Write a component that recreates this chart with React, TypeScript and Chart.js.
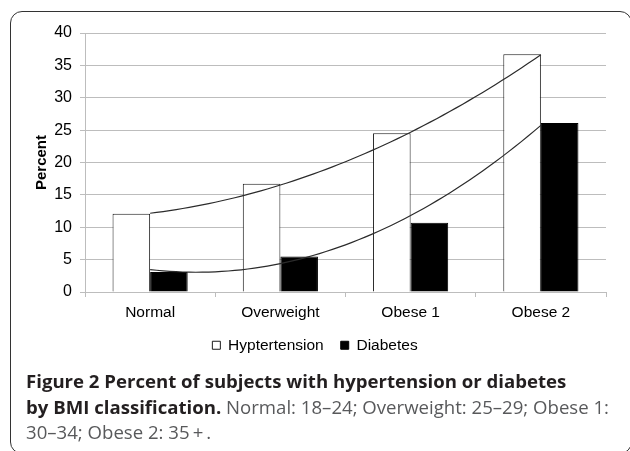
import React, { useEffect, useRef } from "react";
import { Chart, registerables } from "chart.js";

Chart.register(...registerables);

const categories = ["Normal", "Overweight", "Obese 1", "Obese 2"];
const hypertension = [12.1, 16.7, 24.5, 36.7];
const diabetes = [3.1, 5.5, 10.7, 26.1];
const seriesNames = ["Hyptertension", "Diabetes"];
const yAxisTitle = "Percent";
const yMin = 0;
const yMax = 40;
const yStep = 5;

const captionBold1 = "Figure 2 Percent of subjects with hypertension or diabetes";
const captionBold2 = "by BMI classification.";
const captionRest2 = " Normal: 18\u201324; Overweight: 25\u201329; Obese 1:";
const captionRest3 = "30\u201334; Obese 2: 35\u2009+\u2009.";

// Least-squares 2nd-order polynomial trendline (as a spreadsheet would add)
function quadraticFit(values: number[]) {
  const s = [0, 0, 0, 0, 0];
  const t = [0, 0, 0];
  values.forEach((y, x) => {
    for (let k = 0; k <= 4; k++) s[k] += Math.pow(x, k);
    for (let k = 0; k <= 2; k++) t[k] += y * Math.pow(x, k);
  });
  const m = [
    [s[0], s[1], s[2]],
    [s[1], s[2], s[3]],
    [s[2], s[3], s[4]],
  ];
  const det = (a: number[][]) =>
    a[0][0] * (a[1][1] * a[2][2] - a[1][2] * a[2][1]) -
    a[0][1] * (a[1][0] * a[2][2] - a[1][2] * a[2][0]) +
    a[0][2] * (a[1][0] * a[2][1] - a[1][1] * a[2][0]);
  const D = det(m);
  const coef = [0, 1, 2].map((c) => {
    const mc = m.map((row, r) => row.map((v, j) => (j === c ? t[r] : v)));
    return det(mc) / D;
  });
  return (x: number) => coef[0] + coef[1] * x + coef[2] * x * x;
}

// Points of the fitted curve, in category-index units (0 = first category)
function trendPoints(values: number[]) {
  const f = quadraticFit(values);
  const pts: { x: number; y: number }[] = [];
  const steps = 60;
  for (let i = 0; i <= steps; i++) {
    const x = ((values.length - 1) * i) / steps;
    pts.push({ x, y: f(x) });
  }
  return pts;
}

const FONT = "'Liberation Sans', Arial, Helvetica, sans-serif";
const GRID = "#bdbdbd";

export default function App() {
  const ref = useRef<HTMLCanvasElement | null>(null);

  useEffect(() => {
    if (!ref.current) return;
    const chart = new Chart(ref.current, {
      type: "bar",
      data: {
        labels: categories,
        datasets: [
          {
            type: "bar",
            label: seriesNames[0],
            data: hypertension,
            backgroundColor: "#ffffff",
            borderColor: "#1a1a1a",
            borderWidth: 1,
            categoryPercentage: 0.577,
            barPercentage: 1,
            order: 2,
          },
          {
            type: "bar",
            label: seriesNames[1],
            data: diabetes,
            backgroundColor: "#000000",
            borderColor: "#000000",
            borderWidth: 1,
            categoryPercentage: 0.577,
            barPercentage: 1,
            order: 2,
          },
          {
            type: "line",
            label: "trend-h",
            data: trendPoints(hypertension),
            parsing: false,
            borderColor: "#2b2b2b",
            borderWidth: 1.2,
            pointRadius: 0,
            fill: false,
            tension: 0,
            order: 0,
          },
          {
            type: "line",
            label: "trend-d",
            data: trendPoints(diabetes),
            parsing: false,
            borderColor: "#2b2b2b",
            borderWidth: 1.2,
            pointRadius: 0,
            fill: false,
            tension: 0,
            order: 0,
          },
        ] as any,
      },
      options: {
        responsive: false,
        animation: false,
        devicePixelRatio: 1,
        layout: { padding: { top: 33, right: 0, left: 0, bottom: 7 } },
        plugins: {
          legend: {
            position: "bottom",
            labels: {
              filter: (item: any) => item.datasetIndex < 2,
              boxWidth: 8,
              boxHeight: 8,
              padding: 17,
              color: "#000",
              font: { family: FONT, size: 15.5 },
            },
          },
          tooltip: { enabled: false },
        },
        scales: {
          x: {
            type: "category",
            offset: true,
            grid: {
              offset: true,
              drawOnChartArea: false,
              drawTicks: true,
              tickLength: 5,
              color: GRID,
            },
            border: { color: GRID },
            ticks: {
              color: "#000",
              font: { family: FONT, size: 15.5 },
              padding: 6,
              maxRotation: 0,
            },
            afterFit: (s: any) => {
              s.height = 28.5;
            },
          },
          y: {
            min: yMin,
            max: yMax,
            ticks: {
              stepSize: yStep,
              padding: 8,
              color: "#000",
              font: { family: FONT, size: 16 },
            },
            grid: { color: GRID, tickLength: 5 },
            border: { color: GRID },
            title: {
              display: true,
              text: yAxisTitle,
              color: "#000",
              font: { family: FONT, size: 15, weight: "bold" },
              padding: { top: 32.5, bottom: 0 },
            },
            afterFit: (s: any) => {
              s.width = 85;
            },
          },
          yr: {
            position: "right",
            display: true,
            grid: { display: false, drawTicks: false },
            border: { display: false },
            ticks: { display: false },
            afterFit: (s: any) => {
              s.width = 24;
            },
          },
        },
      } as any,
    });
    return () => chart.destroy();
  }, []);

  return (
    <div
      style={{
        position: "absolute",
        left: 0,
        top: 0,
        width: 630,
        height: 451,
        overflow: "hidden",
        background: "#fff",
      }}
    >
      <div
        style={{
          position: "absolute",
          left: 10,
          top: 11,
          width: 622,
          height: 443,
          boxSizing: "border-box",
          border: "1.6px solid #333",
          borderRadius: 12,
        }}
      />
      <canvas
        ref={ref}
        width={630}
        height={370}
        style={{ position: "absolute", left: 0, top: 0, width: 630, height: 370 }}
      />
      <div
        style={{
          position: "absolute",
          left: 26,
          top: 368,
          fontFamily: "'Open Sans', sans-serif",
          fontSize: 18.6,
          lineHeight: "25.5px",
          whiteSpace: "nowrap",
          color: "#58595b",
        }}
      >
        <div>
          <span style={{ fontWeight: 700, color: "#231f20" }}>{captionBold1}</span>
        </div>
        <div>
          <span style={{ fontWeight: 700, color: "#231f20" }}>{captionBold2}</span>
          {captionRest2}
        </div>
        <div>{captionRest3}</div>
      </div>
    </div>
  );
}
